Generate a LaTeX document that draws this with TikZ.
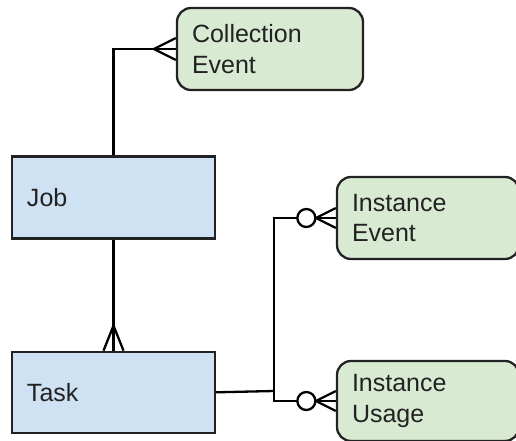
\documentclass[tikz,border=0pt]{standalone}
\usepackage{fontspec}
\setmainfont{Liberation Sans}
\usetikzlibrary{positioning}

\definecolor{entblue}{HTML}{CFE2F3}
\definecolor{attrgreen}{HTML}{D9EAD3}
\definecolor{inkgray}{HTML}{222222}

\begin{document}
\begin{tikzpicture}[
  x=1pt, y=-1pt,
  font=\fontsize{25}{30.5}\selectfont,
  ent/.style={draw=inkgray, line width=2.3pt, fill=entblue, text=inkgray, align=left, inner xsep=15pt, inner ysep=0pt, minimum height=82pt},
  attr/.style={ent, fill=attrgreen, rounded corners=14pt},
  link/.style={draw=black, line width=2.3pt}
]
\clip (0,0) rectangle (516,441);

\node[ent, text width=173pt] (job) at (113.5,197.5) {Job};
\node[ent, text width=173pt, minimum height=81pt, below=111pt of job] (task) {Task};

\node[attr, text width=156pt] (ce) at (270,49) {Collection\\Event};
\node[attr, text width=152pt] (ie) at (428,218) {Instance\\Event};
\node[attr, text width=152pt, minimum height=80pt] (iu) at (428,401) {Instance\\Usage};

% job -- collection event
\draw[link] (job.north) |- (ce.west);
\draw[link] (ce.west) ++(0,-11) -- ++(-22,11) -- ++(22,11);

% job -- task
\draw[link] (job.south) -- (task.north);
\draw[link] (task.north) ++(-10,0) -- ++(10,-25) -- ++(10,25);

% task -- instance tables
\coordinate (junc) at (274,391);
\draw[link] (task.east) -- (junc);
\draw[link] (ie.west) -| (junc);
\draw[link] (iu.west) -| (junc);
\foreach \t in {ie,iu} {
  \draw[link] (\t.west) ++(0,-10) -- ++(-20,10) -- ++(20,10);
  \draw[link, fill=white] (\t.west) ++(-29.5,0) circle[radius=9pt];
}
\end{tikzpicture}
\end{document}
